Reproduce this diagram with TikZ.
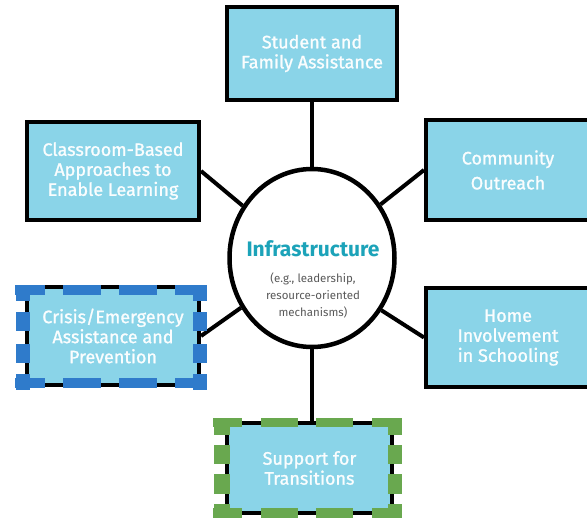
\documentclass[tikz,border=0pt]{standalone}
\usepackage{fontspec}
\setmainfont{Fira Sans}
\newfontfamily\areafont[FakeBold=1.2]{Fira Sans}
\usepackage{tikz}
\usetikzlibrary{shapes.geometric}
\definecolor{areafillc}{HTML}{8AD4E8}
\definecolor{crisiscolorc}{HTML}{2F7BCB}
\definecolor{transcolorc}{HTML}{69A84F}
\definecolor{infracolorc}{HTML}{1CA3B9}
\colorlet{notec}{black!65}
\colorlet{areatextc}{white!96!areafillc}
\tikzstyle{areabox} =[
    draw=black,
    fill=areafillc,
    text=areatextc,
    line width=4pt,
    rectangle,
    align=center,
    inner sep=0pt,
    font=\areafont\fontsize{18}{20}\selectfont
    ]
\tikzstyle{hub} =[
    draw=black,
    fill=white,
    line width=4.5pt,
    ellipse,
    minimum width=165pt,
    minimum height=178pt
    ]
\tikzstyle{spoke} =[
    line width=4pt
    ]
\tikzstyle{crisisband} =[
    crisiscolorc
    ]
\tikzstyle{transband} =[
    transcolorc
    ]

\begin{document}
\begin{tikzpicture}[x=1pt,y=-1pt]
\useasboundingbox (0,0) rectangle (587,519);
\clip (0,0) rectangle (587,519);
\node [hub] (infra) at (312,258) {};
\node [font=\fontsize{21}{24}\selectfont\bfseries, text=infracolorc, inner sep=0pt] (infratitle) at (313,249) {Infrastructure};
\node [font=\fontsize{11.5}{17}\selectfont, text=notec, align=center, inner sep=0pt] (infranote) at (313,295) {(e.g., leadership,\\resource-oriented\\mechanisms)};

\node [areabox, minimum width=170pt, minimum height=93pt] (student) at (312,53.5) {Student and\\Family Assistance};
\node [areabox, minimum width=172pt, minimum height=98pt] (classroom) at (113,171) {Classroom-Based\\Approaches to\\Enable Learning};
\node [areabox, minimum width=164pt, minimum height=100pt] (community) at (508,170) {Community\\[5pt]Outreach};
\node [areabox, minimum width=172pt, minimum height=98pt] (crisis) at (113,336) {Crisis/Emergency\\Assistance and\\Prevention};
\node [areabox, minimum width=164pt, minimum height=99pt] (home) at (508,337.5) {Home\\Involvement\\in Schooling};
\node [areabox, minimum width=165pt, minimum height=90pt] (support) at (309.5,468) {Support for\\Transitions};

\draw [spoke] (infra.north) -- (infra.north |- student.south);
\draw [spoke] (infra.143) -- (classroom.east);
\draw [spoke] (infra.38) -- (community.west);
\draw [spoke] (infra.215) -- (crisis.east);
\draw [spoke] (infra.-37) -- (home.west);
\draw [spoke] (infra.south) -- (infra.south |- support.north);

\begin{scope}[shift={(crisis.center)}, crisisband]
\draw [line width=10pt, dash pattern=on 30pt off 18pt on 38pt off 18pt on 38pt off 18pt on 32pt off 60pt] (-98,-46) -- (94,-46);
\draw [line width=10pt, dash pattern=on 30pt off 18pt on 38pt off 18pt on 38pt off 18pt on 32pt off 60pt] (-98,47) -- (94,47);
\draw [line width=14pt, dash pattern=on 16pt off 11pt on 19pt off 13pt on 19pt off 11pt on 16pt off 60pt] (-90.5,-51) -- (-90.5,54);
\draw [line width=14pt, dash pattern=on 16pt off 11pt on 19pt off 13pt on 19pt off 11pt on 16pt off 60pt] (87,-51) -- (87,54);
\end{scope}
\begin{scope}[shift={(support.center)}, transband]
\draw [line width=9pt, dash pattern=on 29pt off 19pt on 37pt off 18pt on 37pt off 19pt on 30pt off 60pt] (-96.5,-46) -- (92.5,-46);
\draw [line width=10pt, dash pattern=on 29pt off 19pt on 37pt off 18pt on 37pt off 19pt on 30pt off 60pt] (-96.5,45) -- (92.5,45);
\draw [line width=16pt, dash pattern=on 17pt off 10pt on 19pt off 10pt on 20pt off 10pt on 14pt off 60pt] (-88,-50) -- (-88,50);
\draw [line width=14pt, dash pattern=on 17pt off 10pt on 19pt off 10pt on 20pt off 10pt on 14pt off 60pt] (85.5,-50) -- (85.5,50);
\end{scope}
\end{tikzpicture}
\end{document}
